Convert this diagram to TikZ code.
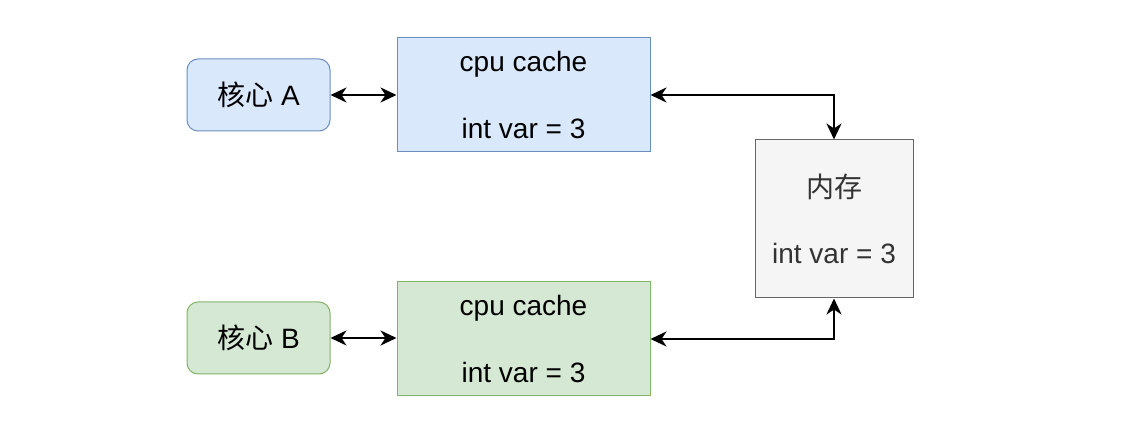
\documentclass[tikz,border=0pt]{standalone}
\usepackage{fontspec}
\setmainfont{Liberation Sans}
\newfontfamily\cjk{Noto Sans CJK SC}
\usetikzlibrary{arrows.meta}
\definecolor{bluefill}{HTML}{DAE8FC}
\definecolor{blueline}{HTML}{6C8EBF}
\definecolor{greenfill}{HTML}{D5E8D4}
\definecolor{greenline}{HTML}{82B366}
\definecolor{greyfill}{HTML}{F5F5F5}
\definecolor{greyline}{HTML}{666666}
\definecolor{greytext}{HTML}{333333}
\begin{document}
\begin{tikzpicture}[x=1pt,y=-1pt,
  txt/.style={font=\fontsize{28}{33.5}\selectfont, align=center, inner sep=0pt, line width=1pt},
  core/.style={txt, rounded corners=11pt, minimum width=143pt, minimum height=72pt},
  cache/.style={txt, minimum width=253pt, minimum height=114pt},
  link/.style={line width=2.4pt, {Stealth[length=16pt,width=15pt,inset=5pt]}-{Stealth[length=16pt,width=15pt,inset=5pt]}}]
\useasboundingbox (0,0) rectangle (1135,435);
  \node[core, fill=bluefill, draw=blueline] at (258.5, 95)   (coreA) {{\cjk 核心} A};
  \node[cache, fill=bluefill, draw=blueline] at (523.5, 95)   (cacheA) {cpu cache\\[33pt]int var = 3};
  \node[core, fill=greenfill, draw=greenline] at (258.5, 338)   (coreB) {{\cjk 核心} B};
  \node[cache, fill=greenfill, draw=greenline] at (523.5, 339)   (cacheB) {cpu cache\\[33pt]int var = 3};
  \node[txt, fill=greyfill, draw=greyline, text=greytext, minimum width=158pt, minimum height=158pt] at (834, 219)   (mem) {{\cjk 内存}\\[33pt]int var = 3};
  \draw[link] (coreA.east) -- (coreA.east -| cacheA.west);
  \draw[link] (coreB.east) -- (coreB.east -| cacheB.west);
  \draw[link] (cacheA.east) -| (mem.north);
  \draw[link] (cacheB.east) -| (mem.south);
    \end{tikzpicture}
\end{document}
